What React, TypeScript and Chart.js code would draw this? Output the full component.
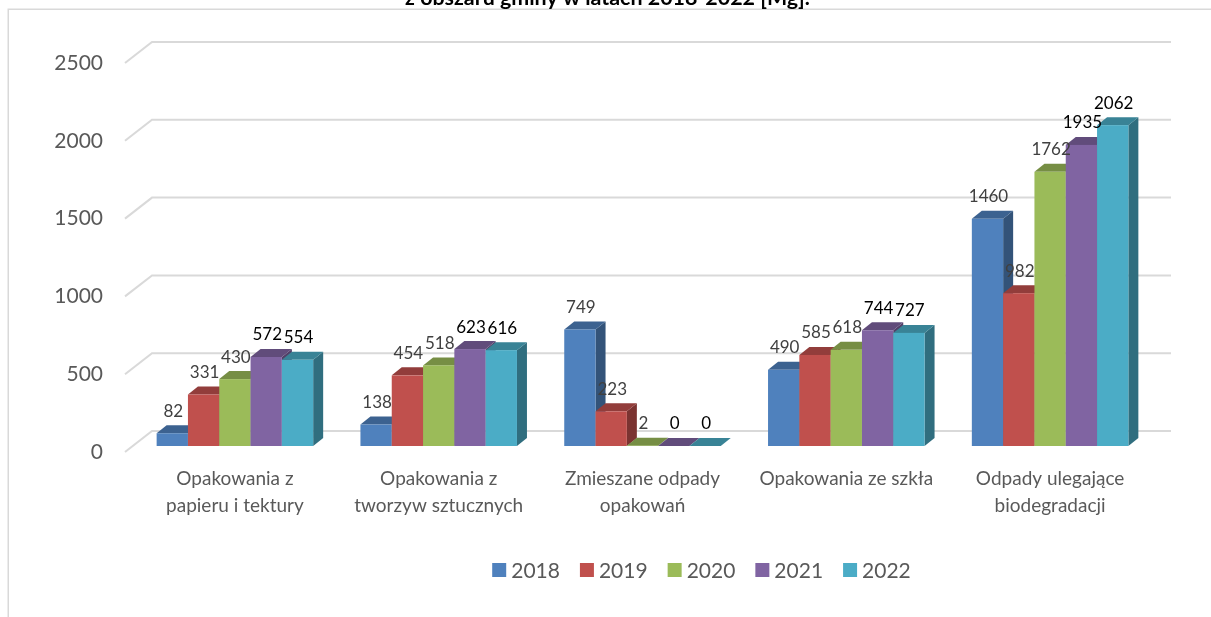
import React, { useEffect, useRef } from 'react';
import { Chart, registerables } from 'chart.js';

Chart.register(...registerables);

// ---- data ----
const categories: (string | string[])[] = [
  ['Opakowania z', 'papieru i tektury'],
  ['Opakowania z', 'tworzyw sztucznych'],
  ['Zmieszane odpady', 'opakowań'],
  'Opakowania ze szkła',
  ['Odpady ulegające', 'biodegradacji'],
];
const seriesLabels = ['2018', '2019', '2020', '2021', '2022'];
const values2018 = [82, 138, 749, 490, 1460];
const values2019 = [331, 454, 223, 585, 982];
const values2020 = [430, 518, 2, 618, 1762];
const values2021 = [572, 623, 0, 744, 1935];
const values2022 = [554, 616, 0, 727, 2062];
const yTicks = [0, 500, 1000, 1500, 2000, 2500];
const titleText = 'z obszaru gminy w latach 2018-2022 [Mg].';

// ---- styles ----
const seriesValues = [values2018, values2019, values2020, values2021, values2022];
const colors = ['#4F81BD', '#C0504D', '#9BBB59', '#8064A2', '#4BACC6'];
const labelColors = ['#404040', '#404040', '#404040', '#000000', '#000000'];
const FONT = 'Lato, "Open Sans", sans-serif';

const DX = 10; // bar depth (x)
const DY = 8; // bar depth (y)
const FX = 8; // front plane offset
const FY = 6;
const BX = 19; // back plane offset
const BY = 15;

function shade(hex: string, f: number) {
  const n = parseInt(hex.slice(1), 16);
  const r = Math.round(((n >> 16) & 255) * f);
  const g = Math.round(((n >> 8) & 255) * f);
  const b = Math.round((n & 255) * f);
  return `rgb(${r},${g},${b})`;
}

const bars3d = {
  id: 'bars3d',
  beforeDraw(chart: any) {
    const ctx = chart.ctx;
    const W = chart.width;
    const H = chart.height;
    ctx.save();
    ctx.fillStyle = '#ffffff';
    ctx.fillRect(0, 0, W, H);
    // frame
    ctx.strokeStyle = '#d9d9d9';
    ctx.lineWidth = 1.5;
    ctx.beginPath();
    ctx.moveTo(8.25, H + 5);
    ctx.lineTo(8.25, 9.25);
    ctx.lineTo(W + 5, 9.25);
    ctx.stroke();
    // title (cut off at the top)
    ctx.fillStyle = '#000000';
    ctx.textAlign = 'center';
    ctx.textBaseline = 'alphabetic';
    ctx.font = `bold 19px ${FONT}`;
    const w = ctx.measureText(titleText).width;
    const size = (19 * 405) / w;
    ctx.font = `bold ${size.toFixed(2)}px ${FONT}`;
    ctx.fillText(titleText, 607.5, 5);
    ctx.restore();
  },
  beforeDatasetsDraw(chart: any) {
    const ctx = chart.ctx;
    const area = chart.chartArea;
    const ys = chart.scales.y;
    ctx.save();
    ctx.strokeStyle = '#d9d9d9';
    ctx.lineWidth = 2;
    for (const v of yTicks) {
      const y = ys.getPixelForValue(v);
      ctx.beginPath();
      ctx.moveTo(area.left - FX, y + FY);
      ctx.lineTo(area.left + BX, y - BY);
      ctx.lineTo(area.right + BX, y - BY);
      ctx.stroke();
    }
    ctx.restore();
  },
  beforeDatasetDraw() {
    return false;
  },
  afterDatasetsDraw(chart: any) {
    const ctx = chart.ctx;
    ctx.save();
    const n = chart.data.datasets.length;
    for (let d = 0; d < n; d++) {
      const meta = chart.getDatasetMeta(d);
      const col = colors[d];
      meta.data.forEach((el: any) => {
        const { x, y, base, width } = el.getProps(['x', 'y', 'base', 'width'], true);
        const x0 = x - width / 2;
        const x1 = x + width / 2;
        // side
        ctx.fillStyle = shade(col, 0.64);
        ctx.beginPath();
        ctx.moveTo(x1, y);
        ctx.lineTo(x1 + DX, y - DY);
        ctx.lineTo(x1 + DX, base - DY);
        ctx.lineTo(x1, base);
        ctx.closePath();
        ctx.fill();
        // top
        ctx.fillStyle = shade(col, 0.76);
        ctx.beginPath();
        ctx.moveTo(x0, y);
        ctx.lineTo(x1, y);
        ctx.lineTo(x1 + DX, y - DY);
        ctx.lineTo(x0 + DX, y - DY);
        ctx.closePath();
        ctx.fill();
        // front
        ctx.fillStyle = col;
        ctx.fillRect(x0, y, width, base - y);
      });
    }
    // data labels
    ctx.font = `17px ${FONT}`;
    ctx.textAlign = 'center';
    ctx.textBaseline = 'middle';
    for (let d = 0; d < n; d++) {
      const meta = chart.getDatasetMeta(d);
      const vals = chart.data.datasets[d].data;
      ctx.fillStyle = labelColors[d];
      meta.data.forEach((el: any, i: number) => {
        const { x, y } = el.getProps(['x', 'y'], true);
        ctx.fillText(String(vals[i]), x + 1, y - 22);
      });
    }
    // legend
    ctx.font = `21px ${FONT}`;
    ctx.textAlign = 'left';
    const box = 14;
    const gap = 5;
    const spacing = 20;
    const widths = chart.data.datasets.map((ds: any) => ctx.measureText(ds.label).width);
    const total = widths.reduce((a: number, b: number) => a + b + box + gap, 0) + spacing * (n - 1);
    let lx = 701.5 - total / 2;
    const ly = 570;
    for (let d = 0; d < n; d++) {
      ctx.fillStyle = colors[d];
      ctx.fillRect(lx, ly - box / 2, box, box);
      ctx.fillStyle = '#595959';
      ctx.fillText(chart.data.datasets[d].label, lx + box + gap, ly + 1);
      lx += box + gap + widths[d] + spacing;
    }
    ctx.restore();
  },
};

export default function App() {
  const ref = useRef<HTMLCanvasElement | null>(null);
  useEffect(() => {
    if (!ref.current) return;
    const chart = new Chart(ref.current, {
      type: 'bar',
      data: {
        labels: categories,
        datasets: seriesLabels.map((label, i) => ({
          label,
          data: seriesValues[i],
          backgroundColor: colors[i],
          borderWidth: 0,
          barPercentage: 1,
          categoryPercentage: 0.768,
        })),
      },
      options: {
        responsive: false,
        animation: false,
        devicePixelRatio: 1,
        layout: { padding: { top: 57, right: 59, left: 0, bottom: 0 } },
        plugins: {
          legend: { display: false },
          title: { display: false },
          tooltip: { enabled: false },
        },
        scales: {
          x: {
            grid: { display: false, drawTicks: false },
            border: { display: false },
            ticks: {
              font: { family: FONT, size: 19, lineHeight: '27px' },
              color: '#595959',
              padding: 19,
              maxRotation: 0,
              autoSkip: false,
            },
            afterFit: (s: any) => {
              s.height = 617 - 446;
            },
          },
          y: {
            min: 0,
            max: 2500,
            afterBuildTicks: (s: any) => {
              s.ticks = yTicks.map((v) => ({ value: v }));
            },
            grid: { display: false, drawTicks: false },
            border: { display: false },
            ticks: {
              font: { family: FONT, size: 21 },
              color: '#595959',
              padding: 30,
              labelOffset: 6,
              callback: (v: any) => String(v),
            },
            afterFit: (s: any) => {
              s.width = 133;
            },
          },
        },
      },
      plugins: [bars3d],
    });
    return () => chart.destroy();
  }, []);
  return (
    <div style={{ position: 'absolute', left: 0, top: 0, width: 1211, height: 617, overflow: 'hidden' }}>
      <canvas ref={ref} width={1211} height={617} style={{ display: 'block' }} />
    </div>
  );
}
